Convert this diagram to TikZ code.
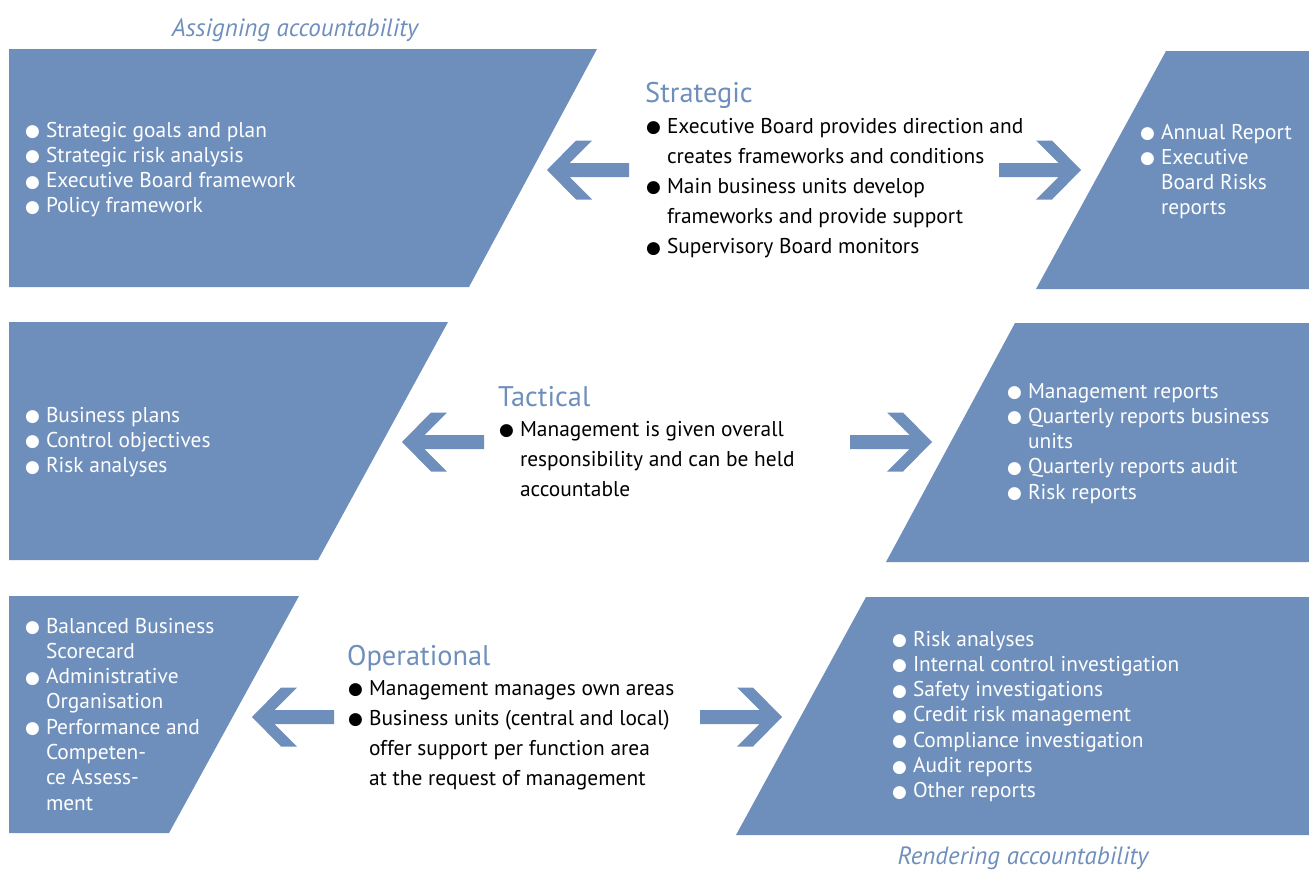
\documentclass[tikz,border=0pt]{standalone}
\usepackage{fontspec}
\usepackage{array}
\setmainfont{PT Sans}
\newfontfamily\dejavu{DejaVu Sans}
\definecolor{boxblue}{RGB}{110,143,187}
\newcommand\bul{\raisebox{0.5pt}{\dejavu\fontsize{17}{17}\selectfont ●}}
\newcommand\nob{}
\newenvironment{blist}{\begin{tabular}[t]{@{}p{21pt}@{}l@{}}}{\end{tabular}}
\tikzset{
  leftarr/.pic={\fill[boxblue] (0,0) -- (29,-29.5) -- (45,-29.5) -- (22.5,-7) -- (82,-7) -- (82,7) -- (22.5,7) -- (45,29.5) -- (29,29.5) -- cycle;},
  rightarr/.pic={\fill[boxblue] (0,0) -- (-29,-29.5) -- (-45,-29.5) -- (-22.5,-7) -- (-82,-7) -- (-82,7) -- (-22.5,7) -- (-45,29.5) -- (-29,29.5) -- cycle;}
}
\begin{document}
\begin{tikzpicture}[x=1pt,y=-1pt,
  panel/.style={fill=boxblue},
  boxtext/.style={anchor=base west, inner sep=0pt, outer sep=0pt, text=white, font=\fontsize{21.4}{25.3}\selectfont},
  midtext/.style={anchor=base west, inner sep=0pt, outer sep=0pt, text=black, font=\fontsize{21.4}{30.2}\selectfont},
  title/.style={anchor=base west, inner sep=0pt, text=boxblue, font=\fontsize{28.4}{30}\selectfont},
  side/.style={anchor=base, inner sep=0pt, text=boxblue, font=\itshape\fontsize{25}{28}\selectfont}]
\useasboundingbox (0,0) rectangle (1309,870);

% panels
\fill[panel] (9,49) -- (597,49) -- (469,287) -- (9,287) -- cycle;
\fill[panel] (1166,51) -- (1309,51) -- (1309,289) -- (1036,289) -- cycle;
\fill[panel] (9,322) -- (448,322) -- (318,560) -- (9,560) -- cycle;
\fill[panel] (1015,323) -- (1309,323) -- (1309,562) -- (886,562) -- cycle;
\fill[panel] (9,596) -- (299,596) -- (169,833) -- (9,833) -- cycle;
\fill[panel] (866,597) -- (1309,597) -- (1309,835) -- (736,835) -- cycle;

% arrows
\pic at (547,170) {leftarr};
\pic at (1081,170) {rightarr};
\pic at (402,442) {leftarr};
\pic at (932,442) {rightarr};
\pic at (252,717) {leftarr};
\pic at (782,717) {rightarr};

% side labels
\node[side] (assign) at (295,36) {Assigning accountability};
\node[side] (render) at (1023,864) {Rendering accountability};

% left panels
\node[boxtext] (tl) at (25,137) {\begin{blist}
\bul & Strategic goals and plan\\
\bul & Strategic risk analysis\\
\bul & Executive Board framework\\
\bul & Policy framework
\end{blist}};
\node[boxtext] (ml) at (25,422) {\begin{blist}
\bul & Business plans\\
\bul & Control objectives\\
\bul & Risk analyses
\end{blist}};
\node[boxtext] (bl) at (25,633) {\begin{blist}
\bul & Balanced Business\\
\nob & Scorecard\\
\bul & Administrative\\
\nob & Organisation\\
\bul & Performance and\\
\nob & Competen-\\
\nob & ce Assess-\\
\nob & ment
\end{blist}};

% right panels
\node[boxtext] (tr) at (1140,139) {\begin{blist}
\bul & Annual Report\\
\bul & Executive\\
\nob & Board Risks\\
\nob & reports
\end{blist}};
\node[boxtext] (mr) at (1007,398) {\begin{blist}
\bul & Management reports\\
\bul & Quarterly reports business\\
\nob & units\\
\bul & Quarterly reports audit\\
\bul & Risk reports
\end{blist}};
\node[boxtext] (br) at (892,646) {\begin{blist}
\bul & Risk analyses\\
\bul & Internal control investigation\\
\bul & Safety investigations\\
\bul & Credit risk management\\
\bul & Compliance investigation\\
\bul & Audit reports\\
\bul & Other reports
\end{blist}};

% middle texts
\node[title] (strat) at (645,102) {Strategic};
\node[midtext] (stratl) at (646,133) {\begin{blist}
\bul & Executive Board provides direction and\\
\nob & creates frameworks and conditions\\
\bul & Main business units develop\\
\nob & frameworks and provide support\\
\bul & Supervisory Board monitors
\end{blist}};
\node[title] (tact) at (498,406) {Tactical};
\node[midtext] (tactl) at (499,436) {\begin{blist}
\bul & Management is given overall\\
\nob & responsibility and can be held\\
\nob & accountable
\end{blist}};
\node[title] (oper) at (347,665) {Operational};
\node[midtext] (operl) at (348,695) {\begin{blist}
\bul & Management manages own areas\\
\bul & Business units (central and local)\\
\nob & offer support per function area\\
\nob & at the request of management
\end{blist}};
\end{tikzpicture}
\end{document}
